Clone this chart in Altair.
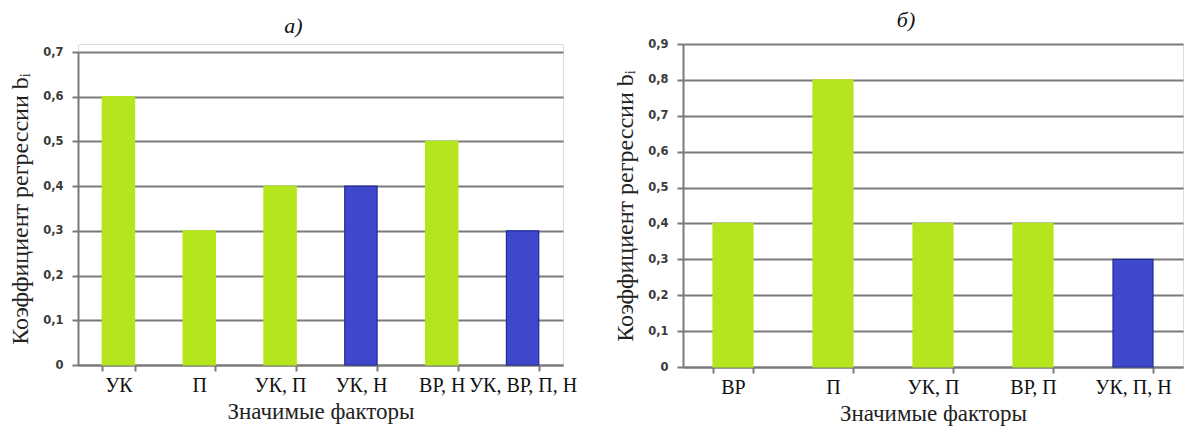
import altair as alt
import pandas as pd

cats_a = ["УК", "П", "УК, П", "УК, Н", "ВР, Н", "УК, ВР, П, Н"]
vals_a = [0.6, 0.3, 0.4, 0.4, 0.5, 0.3]
grp_a = ["g", "g", "g", "b", "g", "b"]

cats_b = ["ВР", "П", "УК, П", "ВР, П", "УК, П, Н"]
vals_b = [0.4, 0.8, 0.4, 0.4, 0.3]
grp_b = ["g", "g", "g", "g", "b"]

GREEN = "#b5e61d"
BLUE = "#3f48cc"
LINE = "#7a7a7a"

df_a = pd.DataFrame({"cat": cats_a, "val": vals_a, "grp": grp_a})
df_b = pd.DataFrame({"cat": cats_b, "val": vals_b, "grp": grp_b})

label_expr = "datum.value == 0 ? '0' : replace(format(datum.value, '.1f'), '.', ',')"
ytitle = "Коэффициент регрессии bᵢ"
SERIF = "Liberation Serif, Times New Roman, serif"


def panel(df, cats, ymax, title, w, h, top):
    return alt.Chart(df).mark_bar(strokeWidth=1.2).encode(
        x=alt.X("cat:N", sort=cats,
                scale=alt.Scale(paddingInner=0.6, paddingOuter=0.3),
                axis=alt.Axis(title="Значимые факторы", labelAngle=0,
                              tickBand="extent", grid=False,
                              labelFont=SERIF, labelFontSize=20,
                              labelColor="#111", labelPadding=4,
                              titleFont=SERIF, titleFontSize=23,
                              titleFontWeight="normal", titleColor="#222",
                              titlePadding=5,
                              domainColor=LINE, domainWidth=2,
                              tickColor=LINE, tickWidth=2, tickSize=6)),
        y=alt.Y("val:Q", scale=alt.Scale(domain=[0, ymax], nice=False, range=[h, top]),
                axis=alt.Axis(title=ytitle, values=[i / 10 for i in range(int(round(ymax * 10)) + 1)],
                              labelExpr=label_expr,
                              labelFont="DejaVu Sans", labelFontSize=11.5,
                              labelFontWeight="bold", labelColor="#3a3a3a",
                              labelPadding=9,
                              titleFont=SERIF, titleFontSize=24,
                              titleFontWeight="normal", titleColor="#222",
                              titlePadding=10,
                              gridColor=LINE, gridWidth=2, gridOpacity=1,
                              domainColor=LINE, domainWidth=2,
                              tickColor=LINE, tickWidth=2, tickSize=6)),
        color=alt.Color("grp:N", scale=alt.Scale(domain=["g", "b"], range=[GREEN, BLUE]), legend=None),
        stroke=alt.Stroke("grp:N", scale=alt.Scale(domain=["g", "b"], range=[GREEN, "#1f2a99"]), legend=None),
    ).properties(
        width=w, height=h,
        title=alt.Title(title, font=SERIF, fontSize=22, fontStyle="italic",
                        fontWeight="normal", color="#111", offset=6, dx=-27),
    )


left = panel(df_a, cats_a, 0.7, "а)", 485, 321, 8)
right = panel(df_b, cats_b, 0.9, "б)", 500, 323, 0)

chart = alt.hconcat(left, right, spacing=35).resolve_scale(
    color="independent", stroke="independent"
).properties(padding=0).configure_view(stroke=None).configure(background="white")

chart.save("out.html", embed_options={"renderer": "svg", "actions": False})
